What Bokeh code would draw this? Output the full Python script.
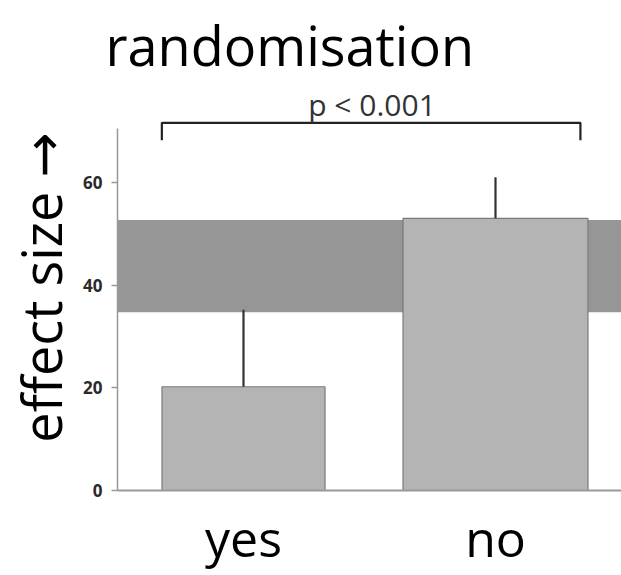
from bokeh.plotting import figure
from bokeh.models import ColumnDataSource, FactorRange, Range1d, FixedTicker, BoxAnnotation
from bokeh.core.properties import value
from bokeh.embed import file_html
from bokeh.resources import INLINE

# ---- data ----
groups = ["yes", "no"]
effect_mean = [20.2, 53.0]
effect_upper = [35.2, 61.0]
band_low = 34.7
band_high = 52.7
y_ticks = [0, 20, 40, 60]
p_label = "p < 0.001"
title_text = "randomisation"
y_label = "effect size \u2192"

# ---- styling (not data) ----
bar_widths = [0.647, 0.734]
FONT = "Open Sans"
LABEL_FONT = "'Open Sans', 'DejaVu Sans'"
TOP = 84  # frame top in pixels

p = figure(width=621, height=575, x_range=FactorRange(*groups, range_padding=0),
           y_range=Range1d(0, (490 - TOP) / 5.135), output_backend="svg", toolbar_location=None,
           min_border_left=117, min_border_right=0, min_border_top=TOP, min_border_bottom=85)
p.outline_line_color = None
p.xgrid.grid_line_color = None
p.ygrid.grid_line_color = None
p.background_fill_color = "white"
p.border_fill_color = "white"

p.title.text = title_text
p.title.text_font = FONT
p.title.text_font_size = "54px"
p.title.text_font_style = "normal"
p.title.text_color = "black"
p.title.align = "left"
p.title.offset = -12
p.title.standoff = 5

# reference band
band = BoxAnnotation(bottom=band_low, top=band_high, fill_color="#969696", fill_alpha=1.0,
                     line_color=None, level="underlay")
p.add_layout(band)

src = ColumnDataSource(dict(x=groups, top=effect_mean, upper=effect_upper, w=bar_widths))
p.vbar(x="x", top="top", width="w", bottom=0, source=src, fill_color="#b4b4b4",
       line_color="#7a7a7a", line_width=1.2)
p.segment(x0="x", y0="top", x1="x", y1="upper", source=src, line_color="#333333", line_width=2.2)

# significance bracket
br_y = effect_upper[1] + 10.6
br_drop = 3.4
p.line(x=[(groups[0], -0.324), (groups[0], -0.324), (groups[1], 0.337), (groups[1], 0.337)],
       y=[br_y - br_drop, br_y, br_y, br_y - br_drop], line_color="#222222", line_width=2.2)
p.text(x=[(groups[1], -0.49)], y=[br_y + 3.6], text=[p_label], text_font=value(FONT),
       text_font_size="30px", text_color="#333333", text_align="center",
       text_baseline="alphabetic")

# axes
yax = p.yaxis[0]
yax.ticker = FixedTicker(ticks=y_ticks)
yax.bounds = (0, 70.5)
yax.axis_line_color = "#999999"
yax.axis_line_width = 1.5
yax.major_tick_line_color = "#999999"
yax.major_tick_line_width = 1.5
yax.major_tick_out = 6
yax.major_tick_in = 0
yax.minor_tick_line_color = None
yax.major_label_text_font = FONT
yax.major_label_text_font_size = "17px"
yax.major_label_text_color = "#2a2a2a"
yax.major_label_text_font_style = "bold"
yax.major_label_standoff = 9
yax.axis_label = y_label
yax.axis_label_text_font = LABEL_FONT
yax.axis_label_text_font_size = "54px"
yax.axis_label_text_font_style = "normal"
yax.axis_label_text_color = "black"
yax.axis_label_standoff = 2

xax = p.xaxis[0]
xax.axis_line_color = "#999999"
xax.axis_line_width = 2
xax.major_tick_line_color = None
xax.minor_tick_line_color = None
xax.major_label_text_font = FONT
xax.major_label_text_font_size = "50px"
xax.major_label_text_color = "black"
xax.major_label_standoff = 7

open("out.html", "w").write(file_html(p, INLINE))
